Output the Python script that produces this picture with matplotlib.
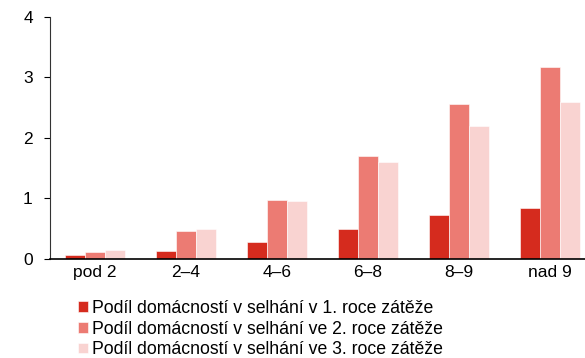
import matplotlib
matplotlib.use('Agg')
import matplotlib.pyplot as plt
import numpy as np

plt.rcParams['font.family'] = ['Liberation Sans', 'DejaVu Sans']

# podíly domácností v selhání podle skupin
categories = ['pod 2', '2–4', '4–6', '6–8', '8–9', 'nad 9']
rok1 = [0.06, 0.14, 0.28, 0.49, 0.72, 0.84]
rok2 = [0.12, 0.47, 0.97, 1.70, 2.56, 3.17]
rok3 = [0.15, 0.49, 0.95, 1.60, 2.20, 2.60]
labels = [
    'Podíl domácností v selhání v 1. roce zátěže',
    'Podíl domácností v selhání ve 2. roce zátěže',
    'Podíl domácností v selhání ve 3. roce zátěže',
]
colors = ['#D52B1E', '#EC7B73', '#F9D3D1']

fig = plt.figure(figsize=(5.85, 3.58), dpi=100)
ax = fig.add_axes([49.5 / 585, 99 / 358, (585 - 49.5) / 585, (259 - 16.7) / 358])

x = np.arange(len(categories))
width = 0.222
for i, (vals, lab, col) in enumerate(zip([rok1, rok2, rok3], labels, colors)):
    ax.bar(x + (i - 1) * width, vals, width, color=col, label=lab,
           edgecolor='white', linewidth=0.4)

ax.set_xlim(-0.5, 5.385)
ax.set_ylim(0, 4)
ax.set_yticks([0, 1, 2, 3, 4])
ax.set_xticks(x)
ax.set_xticklabels(categories)
ax.tick_params(axis='x', length=0, labelsize=12.5, pad=4)
ax.tick_params(axis='y', length=4, labelsize=12.5, pad=8, width=0.8)

for side in ['top', 'right']:
    ax.spines[side].set_visible(False)
ax.spines['left'].set_color('#333333')
ax.spines['left'].set_linewidth(0.8)
ax.spines['bottom'].set_linewidth(1.2)

ax.legend(loc='upper left', bbox_to_anchor=(78 / 585, 1 - 300 / 358),
          bbox_transform=fig.transFigure, frameon=False, fontsize=12.7,
          handlelength=0.55, handleheight=0.55, handletextpad=0.25,
          labelspacing=0.2, borderaxespad=0, borderpad=0)

plt.savefig('out.png', dpi=100)
plt.close()
